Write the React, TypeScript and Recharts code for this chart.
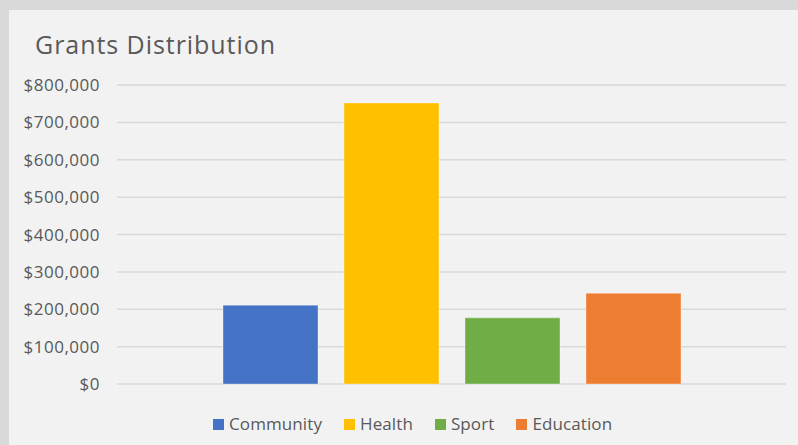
// Grants Distribution - clustered column, one category, four series
import { BarChart, Bar, XAxis, YAxis, CartesianGrid, Legend } from 'recharts'

const seriesNames = ['Community', 'Health', 'Sport', 'Education']
const seriesValues = [211000, 752000, 177000, 243000]
const seriesColors = ['#4472C4', '#FFC000', '#70AD47', '#ED7D31']
const yTicks = [0, 100000, 200000, 300000, 400000, 500000, 600000, 700000, 800000]

const font = '"Open Sans", "Noto Sans", sans-serif'
const textColor = '#595959'

// one row, one key per series
const chartData = [
  seriesNames.reduce((row: any, name, i) => {
    row[name] = seriesValues[i]
    return row
  }, { category: 'Grants' })
]

const money = (v: number) => `$${v.toLocaleString('en-US')}`

function LegendBox() {
  return (
    <div style={{ display: 'flex', paddingLeft: 204, fontFamily: font, fontSize: 17, letterSpacing: 0.1, color: textColor, lineHeight: '24px' }}>
      {seriesNames.map((name, i) => (
        <div key={name} style={{ display: 'flex', alignItems: 'center', marginLeft: i === 0 ? 0 : 22 }}>
          <span style={{ width: 11, height: 11, background: seriesColors[i], display: 'inline-block', marginRight: 5 }} />
          <span>{name}</span>
        </div>
      ))}
    </div>
  )
}

export default function App() {
  return (
    <div style={{ position: 'fixed', left: 0, top: 0, width: 798, height: 445, background: '#d9d9d9' }}>
      <div style={{ position: 'absolute', left: 9, top: 10, width: 789, height: 435, background: '#f2f2f2' }}>
        {/* Title */}
        <div style={{ position: 'absolute', left: 26, top: 22, fontFamily: font, fontSize: 25, letterSpacing: 0.95, color: textColor, lineHeight: 1 }}>
          Grants Distribution
        </div>

        <BarChart
          width={789}
          height={435}
          data={chartData}
          margin={{ top: 75, right: 12, bottom: 61, left: 0 }}
          barGap={26}
          style={{ position: 'absolute', left: 0, top: 0 }}
        >
          <CartesianGrid vertical={false} stroke="#d9d9d9" strokeWidth={1.5} />
          <XAxis dataKey="category" hide height={0} />
          <YAxis
            width={108}
            domain={[0, 800000]}
            ticks={yTicks}
            tickFormatter={money}
            axisLine={false}
            tickLine={false}
            tickSize={0}
            tickMargin={17}
            tick={{ fill: textColor, fontSize: 17, fontFamily: font, letterSpacing: 0.5 }}
          />
          <Legend
            verticalAlign="middle"
            align="center"
            layout="horizontal"
            wrapperStyle={{ top: 402, left: 0, width: 789 }}
            content={() => <LegendBox />}
          />
          {seriesNames.map((name, i) => (
            <Bar
              key={name}
              dataKey={name}
              fill={seriesColors[i]}
              barSize={95}
              stroke="rgba(255,255,255,0.35)"
              strokeWidth={1}
              isAnimationActive={false}
            />
          ))}
        </BarChart>
      </div>
    </div>
  )
}
